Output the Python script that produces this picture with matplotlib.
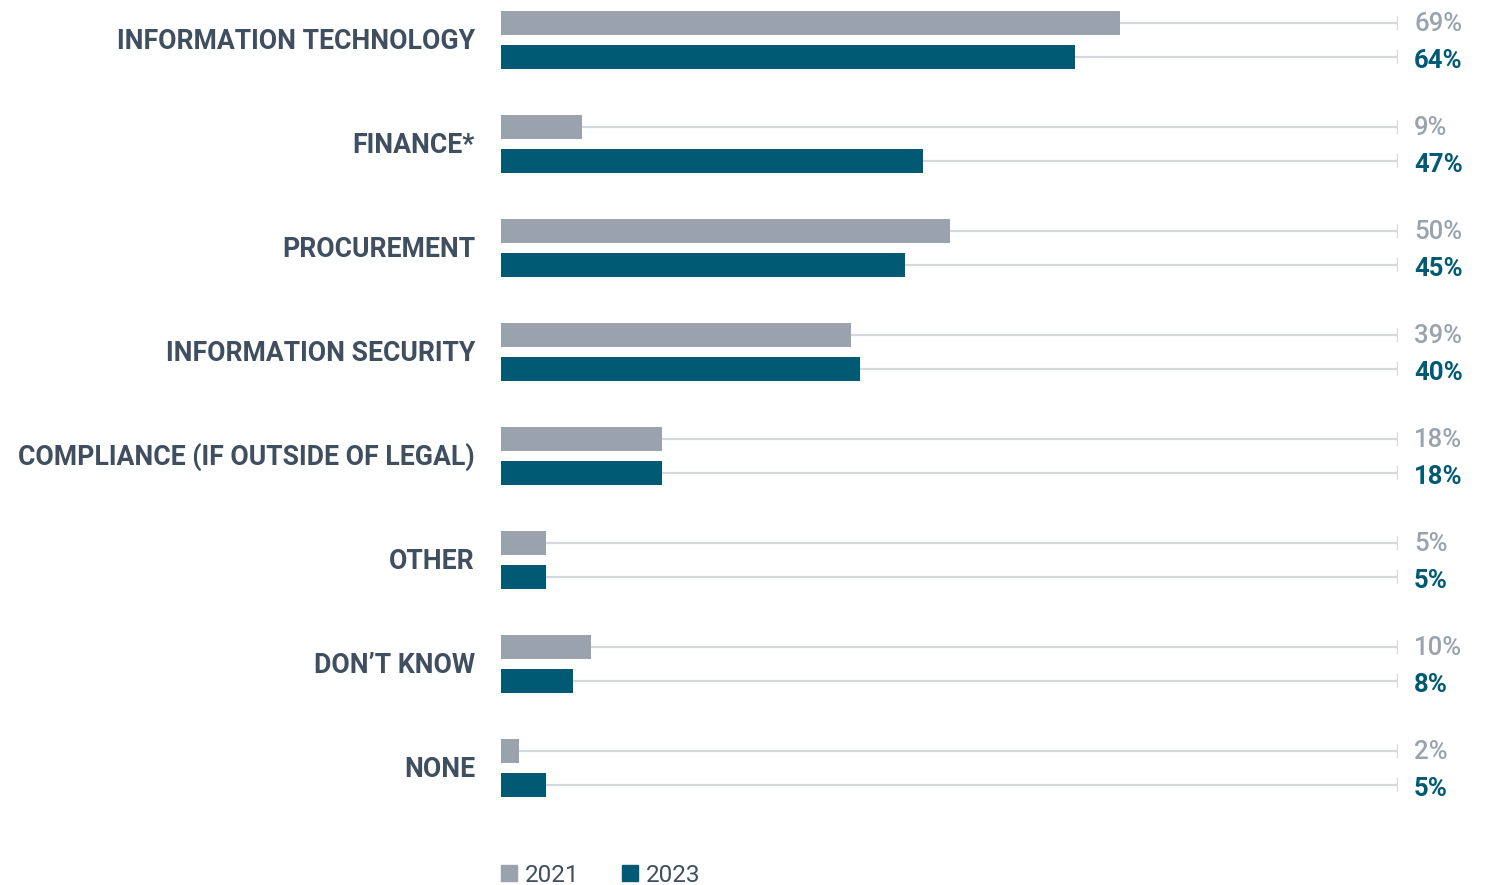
import matplotlib.pyplot as plt
from matplotlib.patches import Patch

# survey shares by department, 2021 vs 2023
categories = ["INFORMATION TECHNOLOGY", "FINANCE*", "PROCUREMENT", "INFORMATION SECURITY",
              "COMPLIANCE (IF OUTSIDE OF LEGAL)", "OTHER", "DON\u2019T KNOW", "NONE"]
vals_2021 = [69, 9, 50, 39, 18, 5, 10, 2]
vals_2023 = [64, 47, 45, 40, 18, 5, 8, 5]
years = ["2021", "2023"]

GRAY = "#9aa3ad"
TEAL = "#005a74"
TRACK = "#d5d9dd"
LABEL = "#3f4f60"

W, H = 1492, 885
fig = plt.figure(figsize=(W / 100, H / 100), dpi=100)
# axes spans x = 501..1398 px, y = 0..830 px
ax = fig.add_axes([501 / W, 1 - 830 / H, (1398 - 501) / W, 830 / H])
ax.set_xlim(0, 100)
ax.set_ylim(7.596, -0.385)
ax.axis("off")

off = 0.163
bh = 0.231
for i, cat in enumerate(categories):
    for y, v, col, weight, dy in [(i - off, vals_2021[i], GRAY, "medium", 0.01),
                                  (i + off, vals_2023[i], TEAL, "bold", 0.04)]:
        ax.plot([0, 100], [y, y], color=TRACK, lw=1.6, zorder=1, solid_capstyle="butt")
        ax.plot([100, 100], [y - 0.06, y + 0.06], color=TRACK, lw=1.6, zorder=1)
        ax.barh(y, v, height=bh, color=col, zorder=2)
        ax.text(101.8, y + dy, f"{v}%", color=col, fontsize=18.5, fontweight=weight,
                family="Roboto", va="center", ha="left")
    ax.text(-2.9, i + 0.01, cat, color=LABEL, fontsize=19.2, fontweight="bold",
            family="Roboto", ha="right", va="center")

handles = [Patch(color=GRAY), Patch(color=TEAL)]
leg = fig.legend(handles, years, loc="center left", bbox_to_anchor=(479 / W, 1 - 875 / H), ncol=2,
                 frameon=False, handlelength=0.66, handleheight=0.66, handletextpad=0.33,
                 columnspacing=1.75, prop={"family": "Roboto", "size": 17.5})
for t in leg.get_texts():
    t.set_color(LABEL)

fig.savefig("out.png", dpi=100)
